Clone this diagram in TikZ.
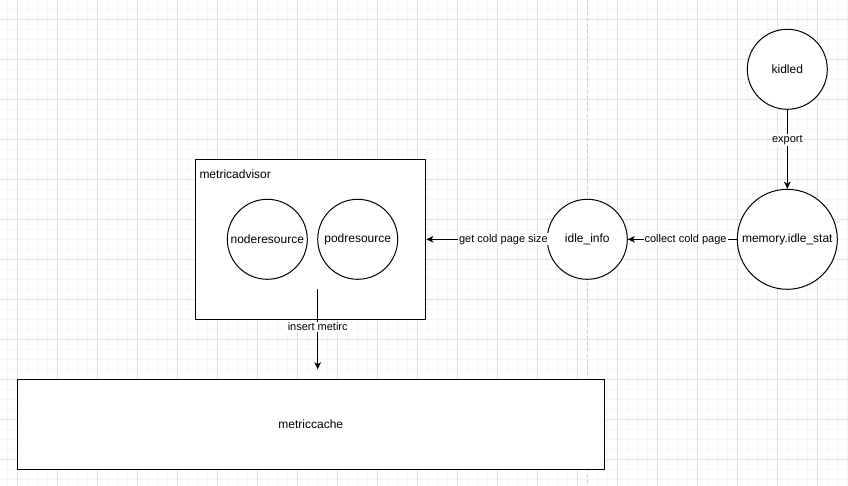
\documentclass[tikz,border=0pt]{standalone}
\usepackage{fontspec}
\setmainfont{Liberation Sans}
\usetikzlibrary{arrows.meta}

\definecolor{gridmajor}{RGB}{224,224,224}
\definecolor{gridminor}{RGB}{245,245,245}
\definecolor{sepgray}{RGB}{200,200,200}

\tikzset{
  proc/.style={circle, draw=black, fill=white, line width=1pt, inner sep=0pt,
    minimum size=80pt, font=\fontsize{12}{14}\selectfont},
  block/.style={rectangle, draw=black, fill=white, line width=1pt, inner sep=0pt,
    font=\fontsize{12}{14}\selectfont},
  elabel/.style={fill=white, inner sep=1pt, font=\fontsize{11}{13}\selectfont},
  flow/.style={line width=1pt, ->}
}

\begin{document}
\begin{tikzpicture}[x=1pt,y=-1pt,>={Stealth[length=7pt,width=6.5pt,inset=1.8pt]}]
\useasboundingbox (0,0) rectangle (848,486);
\fill[white] (0,0) rectangle (848,486);
% grid
\foreach \i in {0,...,84}
  \draw[gridminor, line width=1pt] ({7.3+10*\i},0) -- ({7.3+10*\i},486);
\foreach \i in {0,...,47}
  \draw[gridminor, line width=1pt] (0,{9.3+10*\i}) -- (848,{9.3+10*\i});
\foreach \i in {0,...,20}
  \draw[gridmajor, line width=1pt] ({17.3+40*\i},0) -- ({17.3+40*\i},486);
\foreach \i in {0,...,11}
  \draw[gridmajor, line width=1pt] (0,{19.3+40*\i}) -- (848,{19.3+40*\i});
\draw[sepgray, line width=1pt, dash pattern=on 3pt off 3pt] (587.7,0) -- (587.7,486);

\node[block, minimum width=230pt, minimum height=160pt] (advisor) at (310.8,239.3) {};
\node[anchor=west, inner sep=0pt, font=\fontsize{12}{14}\selectfont] (advlabel)
  at ([xshift=4pt,yshift=-15pt]advisor.north west) {metricadvisor};
\node[proc] (noderes) at (267.3,239.3) {noderesource};
\node[proc] (podres) at (357.7,239.3) {podresource};
\node[block, minimum width=587pt, minimum height=90pt] (cache) at (310.8,424.3) {metriccache};

\node[proc] (idleinfo) at (587.3,239.3) {idle\_info};
\node[proc, minimum size=100pt] (idlestat) at (787.3,239.3) {memory.idle\_stat};
\node[proc] (kidled) at (787.3,69.3) {kidled};

\coordinate (insfrom) at (317.7,289.3);
\coordinate (insto) at (317.7,369.3);

\draw[flow] (kidled) -- node[elabel, pos=0.38] {export} (idlestat);
\draw[flow] (idlestat) -- node[elabel, pos=0.47] {collect cold page} (idleinfo);
\draw[flow] (idleinfo.west) -- node[elabel, pos=0.36] {get cold page size} (advisor.east);
\draw[flow] (insfrom) -- node[elabel, pos=0.47] {insert metirc} (insto);
\end{tikzpicture}
\end{document}
